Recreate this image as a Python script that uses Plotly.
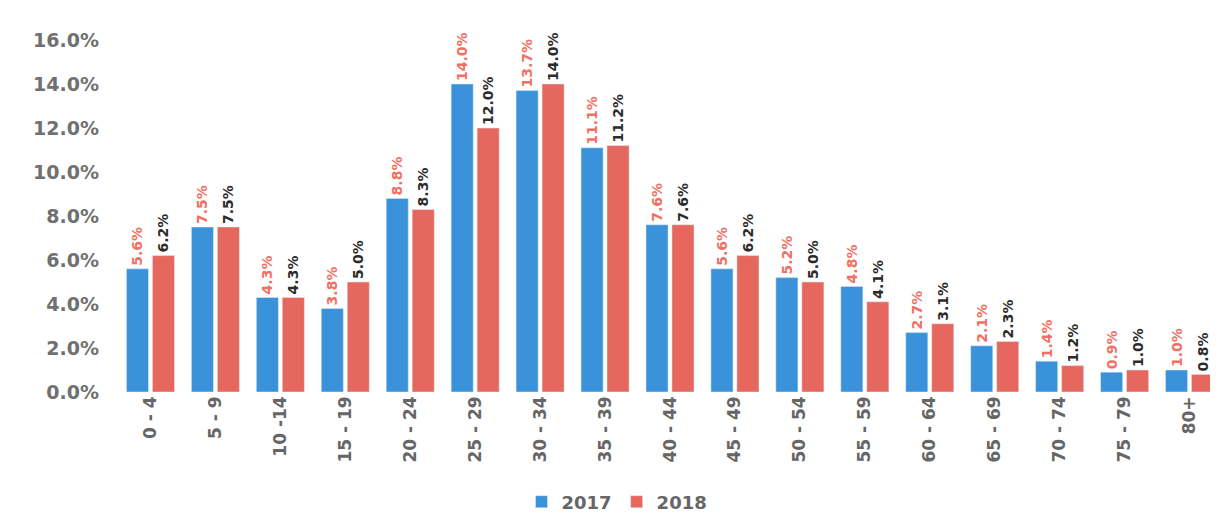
import plotly.graph_objects as go

categories = ["0 - 4", "5 - 9", "10 -14", "15 - 19", "20 - 24", "25 - 29", "30 - 34", "35 - 39",
              "40 - 44", "45 - 49", "50 - 54", "55 - 59", "60 - 64", "65 - 69", "70 - 74", "75 - 79", "80+"]
values_2017 = [5.6, 7.5, 4.3, 3.8, 8.8, 14.0, 13.7, 11.1, 7.6, 5.6, 5.2, 4.8, 2.7, 2.1, 1.4, 0.9, 1.0]
values_2018 = [6.2, 7.5, 4.3, 5.0, 8.3, 12.0, 14.0, 11.2, 7.6, 6.2, 5.0, 4.1, 3.1, 2.3, 1.2, 1.0, 0.8]
y_ticks = [0, 2, 4, 6, 8, 10, 12, 14, 16]

fig = go.Figure()
fig.add_trace(go.Bar(
    name="2017", x=categories, y=values_2017,
    marker_color="#3A92DA",
    text=[f"{v:.1f}%" for v in values_2017], textposition="outside", textangle=-90,
    constraintext="none",
    textfont=dict(family="DejaVu Sans", size=14, color="#F26F64", weight="bold"),
    cliponaxis=False,
))
fig.add_trace(go.Bar(
    name="2018", x=categories, y=values_2018,
    marker_color="#E5675E",
    text=[f"{v:.1f}%" for v in values_2018], textposition="outside", textangle=-90,
    constraintext="none",
    textfont=dict(family="DejaVu Sans", size=14, color="#2B2B2B", weight="bold"),
    cliponaxis=False,
))

fig.update_layout(
    width=1218, height=513,
    margin=dict(l=110, r=4, t=32, b=129, autoexpand=False),
    paper_bgcolor="white", plot_bgcolor="white",
    barmode="group", bargap=0.2, bargroupgap=0.15,
    legend=dict(orientation="h", xref="container", x=0.5, xanchor="center", y=-0.365, yanchor="bottom",
                font=dict(family="DejaVu Sans", size=18, color="#666", weight="bold"),
                traceorder="normal"),
    xaxis=dict(tickangle=-90, tickfont=dict(family="DejaVu Sans", size=17, color="#666", weight="bold"),
               showgrid=False, showline=False, ticks="", automargin=False),
    yaxis=dict(range=[0, 16], tickvals=y_ticks, ticktext=[f"{v:.1f}%" for v in y_ticks],
               tickfont=dict(family="DejaVu Sans", size=19, color="#707070", weight="bold"),
               showgrid=False, zeroline=False, showline=False, ticks="", ticklabelstandoff=18,
               automargin=False),
)

fig.write_html("out.html")
